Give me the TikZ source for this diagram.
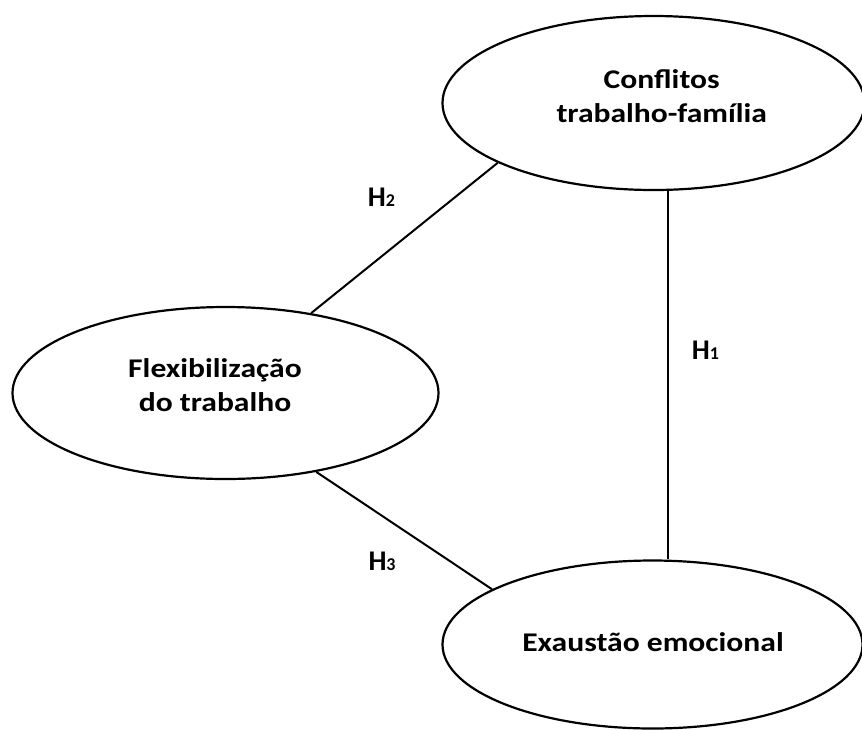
\documentclass[tikz,border=0pt]{standalone}
\usepackage{fontspec}
\setmainfont{Carlito}
\newfontfamily\widefont[FakeStretch=1.17]{Carlito}
\usetikzlibrary{shapes.geometric}
\begin{document}
\begin{tikzpicture}[x=1pt,y=-1pt,
  oval/.style={ellipse, draw, line width=2.2pt, inner sep=0pt},
  txt/.style={align=center, inner sep=0pt, font=\widefont\bfseries\fontsize{27}{34}\selectfont},
  link/.style={line width=2pt},
  hlabel/.style={anchor=base west, inner sep=0pt, font=\bfseries\fontsize{28.5}{28.5}\selectfont}]
\useasboundingbox (0,0) rectangle (862,729);
% ellipses
\node[oval, minimum width=422pt, minimum height=174pt] (cf) at (653.5,103) {};
\node[oval, minimum width=426pt, minimum height=172pt] (fx) at (225.5,393) {};
\node[oval, minimum width=420pt, minimum height=168pt] (ex) at (652.5,644.5) {};
% texts
\node[txt] (cft) at (661.7,96) {Conflitos\\trabalho-família};
\node[txt] (fxt) at (215,385) {Flexibilização\\do trabalho};
\node[txt, anchor=base] (ext) at (653,651.5) {Exaustão emocional};
% connectors
\draw[link] (cf.201) -- (fx.43);
\draw[link] ([xshift=14.5pt]cf.south) -- ([xshift=15.5pt]ex.north);
\draw[link] (fx.-41) -- (ex.161);
% labels
\node[hlabel] (h2) at (367.7,206.7) {H{\fontsize{18}{18}\selectfont 2}};
\node[hlabel] (h1) at (691.7,359.3) {H{\fontsize{18}{18}\selectfont 1}};
\node[hlabel] (h3) at (368.3,570) {H{\fontsize{18}{18}\selectfont 3}};
\end{tikzpicture}
\end{document}
